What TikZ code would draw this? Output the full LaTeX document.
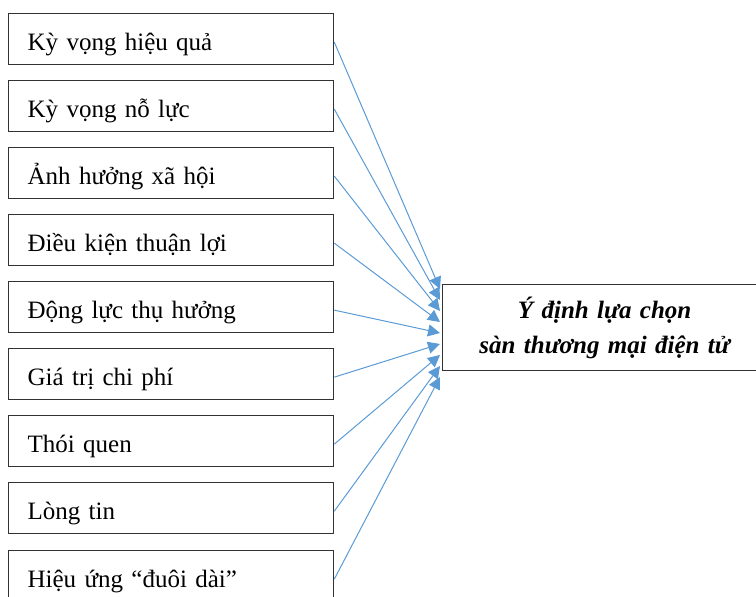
\documentclass[tikz,border=0pt]{standalone}
\usepackage{fontspec}
\setmainfont{Liberation Serif}
\usetikzlibrary{arrows.meta}
\definecolor{arrblue}{RGB}{91,155,213}
\definecolor{boxline}{RGB}{50,50,50}
\tikzset{
  factor/.style={draw=boxline, line width=1.3pt, rectangle, anchor=north west,
    minimum height=51pt, text width=287pt, inner xsep=19pt, inner ysep=0pt,
    text height=26pt, text depth=3pt,
    align=left, font=\fontsize{25}{30}\selectfont},
  goalbox/.style={draw=boxline, line width=1.3pt, rectangle, anchor=north west,
    minimum height=86pt, text width=300pt, inner xsep=12pt, inner ysep=0pt,
    align=center, font=\fontsize{25}{35}\selectfont\bfseries\itshape},
  link/.style={draw=arrblue, line width=1pt, -{Triangle[length=12pt,width=12pt]}}
}
\begin{document}
\begin{tikzpicture}[x=1pt,y=-1pt]
\useasboundingbox (0,0) rectangle (756,597);
\node[factor] (b1) at (8,13) {Kỳ vọng hiệu quả};
\node[factor] (b2) at (8,80) {Kỳ vọng nỗ lực};
\node[factor] (b3) at (8,147) {Ảnh hưởng xã hội};
\node[factor] (b4) at (8,214) {Điều kiện thuận lợi};
\node[factor] (b5) at (8,281) {Động lực thụ hưởng};
\node[factor] (b6) at (8,348) {Giá trị chi phí};
\node[factor] (b7) at (8,415) {Thói quen};
\node[factor] (b8) at (8,482) {Lòng tin};
\node[factor] (b9) at (8,550) {Hiệu ứng “đuôi dài”};
\node[goalbox] (g) at (442,284) {\raisebox{-3pt}{Ý định lựa chọn}\\\raisebox{-3pt}{sàn thương mại điện tử}};
\foreach \i/\ty in {1/289,2/300,3/311,4/322,5/333,6/344,7/355,8/366,9/377}{
  \coordinate (t\i) at (440,\ty);
  \draw[link] ([yshift=-3pt]b\i.east) -- (t\i);
}
\end{tikzpicture}
\end{document}
